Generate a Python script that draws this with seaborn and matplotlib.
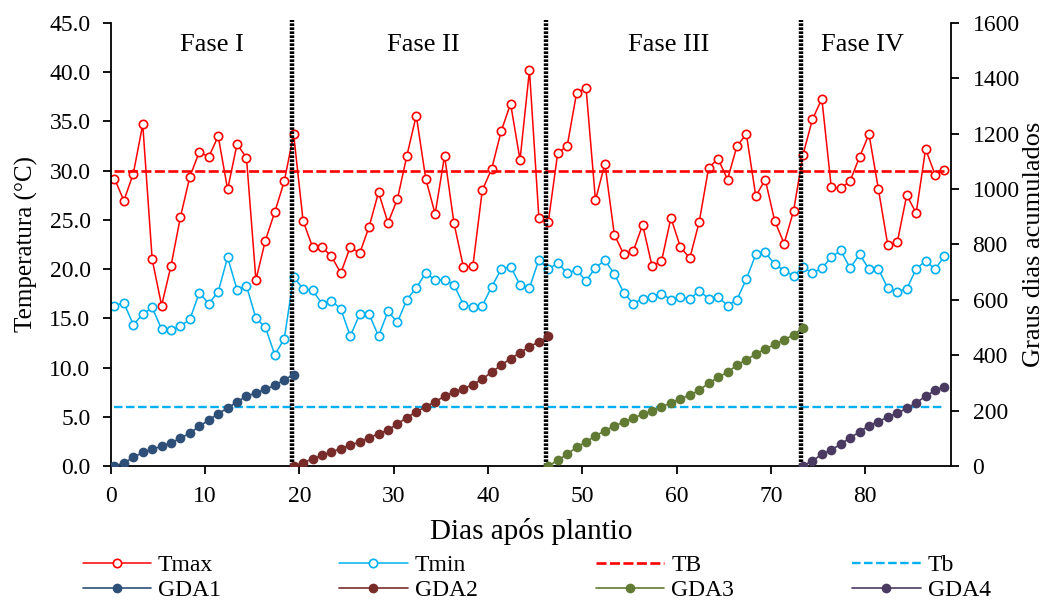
import matplotlib.pyplot as plt
import numpy as np
import seaborn as sns

# Temperaturas diárias (°C)
tmax = [29.2, 26.95, 29.7, 34.7, 21.0, 16.3, 20.35, 25.3, 29.4, 31.9,
        31.4, 33.5, 28.1, 32.7, 31.3, 18.9, 22.9, 25.8, 28.9, 33.7,
        24.9, 22.25, 22.25, 21.3, 19.6, 22.25, 21.6, 24.3, 27.8, 24.7,
        27.1, 31.5, 35.6, 29.2, 25.6, 31.5, 24.65, 20.2, 20.3, 28.0,
        30.2, 34.0, 36.8, 31.1, 40.2, 25.2, 24.8, 31.8, 32.5, 37.9,
        38.4, 27.0, 30.7, 23.5, 21.5, 21.8, 24.5, 20.3, 20.8, 25.2,
        22.25, 21.1, 24.8, 30.3, 31.2, 29.1, 32.5, 33.7, 27.4, 29.1,
        24.9, 22.6, 25.9, 31.6, 35.2, 37.3, 28.3, 28.2, 28.95, 31.4,
        33.7, 28.1, 22.4, 22.75, 27.5, 25.7, 32.2, 29.6, 30.1]
tmin = [16.3, 16.56, 14.36, 15.4, 16.1, 13.9, 13.8, 14.2, 14.9, 17.6,
        16.5, 17.7, 21.2, 17.9, 18.3, 15.0, 14.1, 11.3, 12.9, 19.2,
        18.0, 17.85, 16.5, 16.8, 15.95, 13.2, 15.4, 15.4, 13.2, 15.7,
        14.6, 16.9, 18.1, 19.6, 18.9, 18.9, 18.4, 16.4, 16.15, 16.3,
        18.2, 20.0, 20.25, 18.4, 18.1, 20.95, 20.0, 20.6, 19.6, 19.9,
        18.8, 20.15, 20.9, 19.5, 17.6, 16.5, 17.0, 17.2, 17.5, 16.9,
        17.2, 16.95, 17.8, 17.0, 17.2, 16.3, 16.9, 19.0, 21.5, 21.7,
        20.5, 19.85, 19.3, 20.2, 19.6, 20.1, 21.2, 21.9, 20.1, 21.5,
        20.0, 20.0, 18.05, 17.7, 18.0, 20.0, 20.85, 20.0, 21.3]
TB = 30.0
Tb = 6.0

# Graus dias acumulados por fase
gda1 = [0, 10.8, 31, 49, 61, 71, 84, 100, 119, 143, 166, 189, 209, 232,
        252, 264, 277, 291, 311, 330]
gda2 = [0, 11, 26, 38, 50, 63, 75, 87, 102, 116, 130, 152, 175, 195, 214,
        232, 252, 268, 279, 294, 314, 339, 364, 388, 409, 431, 448, 469]
gda3 = [0, 20, 43, 67, 88, 108, 128, 144, 159, 173, 187, 199, 213, 228,
        243, 255, 274, 299, 320, 339, 364, 384, 404, 423, 439, 455, 474, 500]
gda4 = [0, 19, 42, 58, 79, 102, 123, 146, 160, 177, 191, 208, 228, 252,
        273, 286]

inicio_fases = [0, 19, 46, 73]
fases = ['Fase I', 'Fase II', 'Fase III', 'Fase IV']
gda_nomes = ['GDA1', 'GDA2', 'GDA3', 'GDA4']
gda_cores = ['#2E4F78', '#782C2A', '#617A34', '#4A3A62']

dias = np.arange(len(tmax))

sns.set_style('white')
plt.rcParams['font.family'] = ['Liberation Serif', 'DejaVu Serif']
plt.rcParams['text.color'] = 'black'
plt.rcParams['axes.labelcolor'] = 'black'

fig, ax = plt.subplots(figsize=(10.48, 6.03), dpi=100)
fig.subplots_adjust(left=0.1056, right=0.9075, top=0.9619, bottom=0.2272)
ax2 = ax.twinx()

sns.lineplot(x=dias, y=tmax, ax=ax, color='#FF0000', lw=1.1, marker='o',
             markersize=6, markerfacecolor='white', markeredgecolor='#FF0000',
             markeredgewidth=1.2, label='Tmax')
sns.lineplot(x=dias, y=tmin, ax=ax, color='#00B0F0', lw=1.1, marker='o',
             markersize=6, markerfacecolor='white', markeredgecolor='#00B0F0',
             markeredgewidth=1.2, label='Tmin')
sns.lineplot(x=dias, y=np.full(len(dias), TB), ax=ax, color='#FF0000', lw=1.9,
             linestyle=(0, (3.8, 1.3)), label='TB')
sns.lineplot(x=dias, y=np.full(len(dias), Tb), ax=ax, color='#00B0F0', lw=1.7,
             linestyle=(0, (3.6, 1.5)), label='Tb')

for i, g in enumerate([gda1, gda2, gda3, gda4]):
    x = np.arange(inicio_fases[i], inicio_fases[i] + len(g))
    sns.lineplot(x=x, y=g, ax=ax2, color=gda_cores[i], lw=1.2, marker='o',
                 markersize=7, markeredgewidth=0, label=gda_nomes[i])

# Divisões entre fases
for d in inicio_fases[1:]:
    ax.axvline(d - 0.2, ymax=1.006, color='black', lw=3.2,
               linestyle=(0, (0.6, 0.3)), clip_on=False)

fase_x = [10.3, 32.8, 58.8, 79.3]
for nome, fx in zip(fases, fase_x):
    ax.text(fx, 42.8, nome, fontsize=19, ha='center', va='center',
            color='black')

h1, l1 = ax.get_legend_handles_labels()
h2, l2 = ax2.get_legend_handles_labels()
ax.get_legend().remove()
ax2.get_legend().remove()

ax.set_xlim(-0.4, 88.7)
ax.set_ylim(0, 45)
ax2.set_ylim(0, 1600)
ax.set_xticks(np.arange(0, 81, 10) - 0.4, [str(v) for v in range(0, 81, 10)])
ax.set_yticks(np.arange(0, 46, 5), ['%.1f' % v for v in np.arange(0, 46, 5)])
ax2.set_yticks(np.arange(0, 1601, 200))

ax.set_xlabel('Dias após plantio', fontsize=21, labelpad=8)
ax.set_ylabel('Temperatura (°C)', fontsize=18, labelpad=8)
ax2.set_ylabel('Graus dias acumulados', fontsize=19, labelpad=2)

for a in (ax, ax2):
    a.spines['top'].set_visible(False)
    for s in a.spines.values():
        s.set_color('black')
        s.set_linewidth(1.3)
    a.tick_params(axis='both', direction='out', length=5.5, width=1.3,
                  labelsize=17, colors='black')
ax.spines['right'].set_visible(False)
ax2.spines['left'].set_visible(False)
ax2.spines['bottom'].set_visible(False)
ax.tick_params(axis='y', right=False, left=True, pad=9)
ax.tick_params(axis='x', bottom=True, pad=9)
ax2.tick_params(axis='y', right=True, pad=10)

ordem_h = [h1[0], h2[0], h1[1], h2[1], h1[2], h2[2], h1[3], h2[3]]
ordem_l = [l1[0], l2[0], l1[1], l2[1], l1[2], l2[2], l1[3], l2[3]]
fig.legend(ordem_h, ordem_l, loc='center', bbox_to_anchor=(0.512, 0.0415),
           ncol=4, frameon=False, fontsize=17, handlelength=2.9,
           handletextpad=0.3, columnspacing=5.0, labelspacing=0.15)

fig.savefig('out.png', dpi=100)
